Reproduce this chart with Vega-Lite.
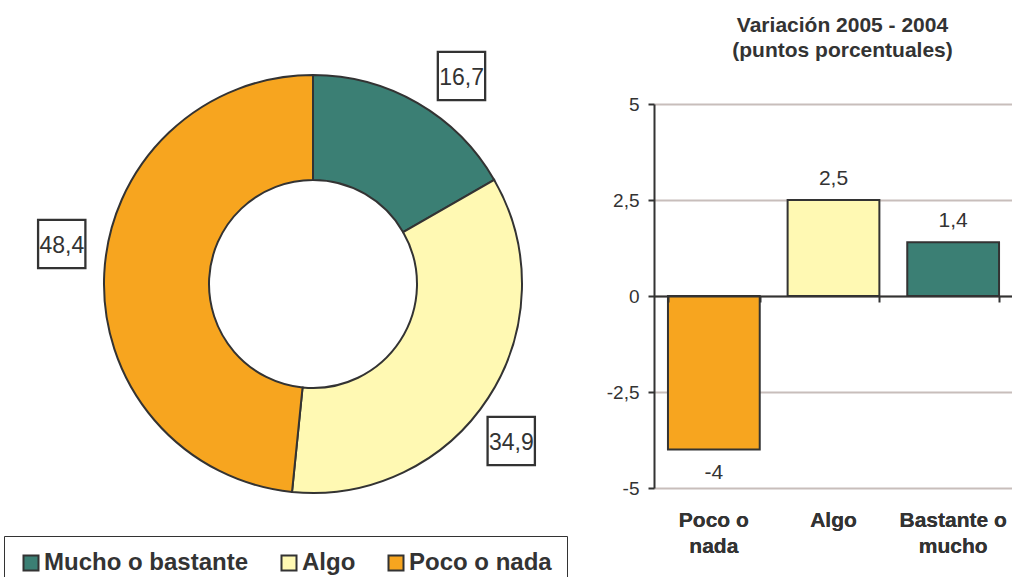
{
  "$schema": "https://vega.github.io/schema/vega-lite/v6.json",
  "background": "white",
  "padding": {"left": 3, "top": 15, "right": 0, "bottom": 0},
  "spacing": -16,
  "config": {
    "font": "Liberation Sans",
    "view": {"stroke": null},
    "legend": {"labelFontWeight": "bold", "labelFont": "Liberation Sans"},
    "locale": {"number": {"decimal": ",", "thousands": ".", "grouping": [3], "currency": ["", " €"], "minus": "-"}}
  },
  "resolve": {"scale": {"color": "independent"}, "legend": {"color": "independent"}},
  "datasets": {
    "reparto": [
      {"cat": "Mucho o bastante", "pct": 16.7},
      {"cat": "Algo", "pct": 34.9},
      {"cat": "Poco o nada", "pct": 48.4}
    ],
    "variacion": [
      {"cat": "Poco o nada", "var": -4},
      {"cat": "Algo", "var": 2.5},
      {"cat": "Bastante o mucho", "var": 1.4}
    ]
  },
  "hconcat": [
    {
      "width": 618,
      "height": 360,
      "data": {"name": "reparto"},
      "encoding": {
        "theta": {"field": "pct", "type": "quantitative", "stack": true},
        "order": {"field": "pct", "sort": "ascending"}
      },
      "layer": [
        {
          "mark": {"type": "arc", "innerRadius": 104, "outerRadius": 209, "stroke": "#333333", "strokeWidth": 2},
          "encoding": {
            "color": {
              "field": "cat", "type": "nominal",
              "scale": {"domain": ["Mucho o bastante", "Algo", "Poco o nada"], "range": ["#3b7f74", "#fff9b3", "#f7a51f"]},
              "legend": {
                "title": null, "orient": "none", "legendX": 0, "legendY": 432, "direction": "horizontal",
                "symbolType": "square", "symbolSize": 225, "symbolStrokeColor": "#333333", "symbolStrokeWidth": 2,
                "labelFont": "Liberation Sans", "labelFontSize": 24, "labelFontWeight": "bold", "labelColor": "#333333",
                "labelOffset": 1, "columnPadding": 28, "padding": 15, "strokeColor": "#333333", "labelLimit": 0
              }
            }
          }
        },
        {
          "mark": {"type": "text", "text": "□", "font": "Noto Sans CJK JP", "fontSize": 62, "radius": 254, "thetaOffset": 0.1, "dy": 3, "color": "#333333", "align": "center", "baseline": "middle"}
        },
        {
          "mark": {"type": "text", "radius": 254, "thetaOffset": 0.1, "fontSize": 23, "color": "#333333", "align": "center", "baseline": "middle"},
          "encoding": {"text": {"field": "pct", "type": "quantitative", "format": ".1f"}}
        }
      ]
    },
    {
      "width": 359,
      "height": 384,
      "title": {"text": ["Variación 2005 - 2004", "(puntos porcentuales)"], "fontSize": 21, "fontWeight": "bold", "font": "Liberation Sans", "color": "#333333", "lineHeight": 25, "offset": 34, "anchor": "middle", "dx": 9},
      "data": {"name": "variacion"},
      "encoding": {
        "x": {
          "field": "cat", "type": "nominal", "sort": ["Poco o nada", "Algo", "Bastante o mucho"],
          "scale": {"paddingInner": 0.233, "paddingOuter": 0.1167},
          "axis": {
            "title": null, "orient": "bottom", "domain": false, "ticks": false, "tickSize": 0, "labelAngle": 0,
            "labelFont": "Liberation Sans", "labelFontSize": 21, "labelFontWeight": "bold", "labelColor": "#333333",
            "labelPadding": 21, "labelLineHeight": 26, "labelLimit": 0,
            "labelExpr": "datum.value == 'Poco o nada' ? ['Poco o', 'nada'] : datum.value == 'Bastante o mucho' ? ['Bastante o', 'mucho'] : datum.value"
          }
        },
        "y": {
          "field": "var", "type": "quantitative",
          "scale": {"domain": [-5, 5], "nice": false},
          "axis": {
            "title": null, "values": [-5, -2.5, 0, 2.5, 5], "format": ".1~f",
            "labelFont": "Liberation Sans", "labelFontSize": 19, "labelColor": "#333333", "labelPadding": 9,
            "tickSize": 6, "tickWidth": 2, "tickColor": "#333333", "domainColor": "#333333", "domainWidth": 2,
            "grid": true, "gridColor": "#c8bebb", "gridWidth": 2
          }
        }
      },
      "resolve": {"axis": {"x": "independent"}},
      "layer": [
        {
          "mark": {"type": "bar", "stroke": "#333333", "strokeWidth": 2},
          "encoding": {
            "color": {
              "field": "cat", "type": "nominal",
              "scale": {"domain": ["Poco o nada", "Algo", "Bastante o mucho"], "range": ["#f7a51f", "#fff9b3", "#3b7f74"]},
              "legend": null
            }
          }
        },
        {
          "transform": [{"filter": "datum.var >= 0"}],
          "mark": {"type": "text", "baseline": "bottom", "dy": -11, "fontSize": 21, "color": "#333333"},
          "encoding": {
            "text": {"field": "var", "type": "quantitative", "format": ".1~f"},
            "x": {
              "field": "cat", "type": "nominal", "sort": ["Poco o nada", "Algo", "Bastante o mucho"],
              "axis": {
                "title": null, "orient": "bottom", "offset": -192, "labels": false, "domain": true, "domainColor": "#333333", "domainWidth": 2,
                "ticks": true, "tickBand": "extent", "tickSize": 6, "tickWidth": 2, "tickColor": "#333333", "zindex": 1
              }
            }
          }
        },
        {
          "transform": [{"filter": "datum.var < 0"}],
          "mark": {"type": "text", "baseline": "top", "dy": 12, "fontSize": 21, "color": "#333333"},
          "encoding": {"text": {"field": "var", "type": "quantitative", "format": ".1~f"}}
        }
      ]
    }
  ]
}
